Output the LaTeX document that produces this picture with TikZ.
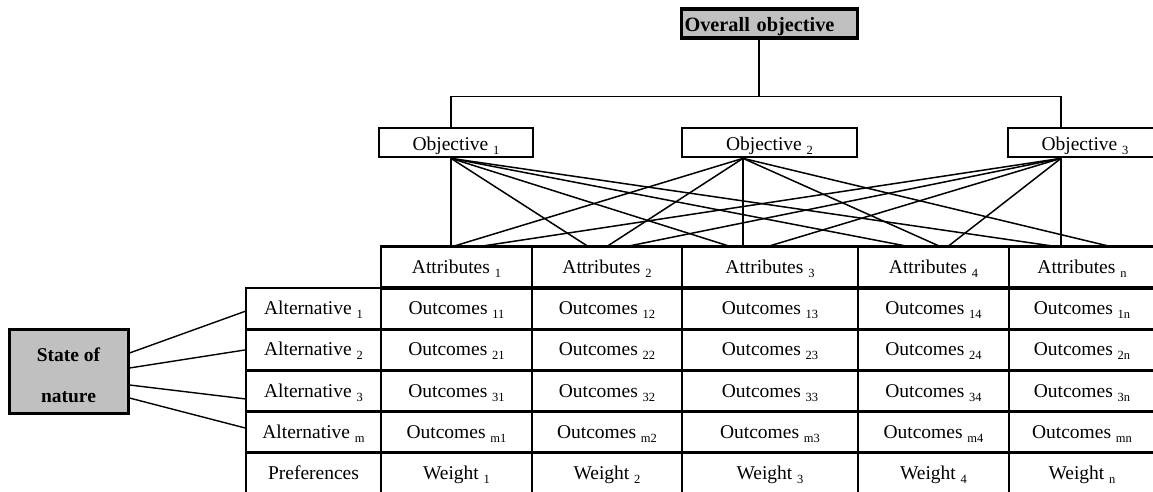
\documentclass[tikz,border=0pt]{standalone}
\usepackage{fontspec}
\setmainfont{Liberation Serif}
\usetikzlibrary{calc}
\definecolor{box-grey}{HTML}{C0C0C0}
\newcommand{\idx}[1]{\raisebox{-4pt}{\fontsize{12.5}{14}\selectfont #1}}

\begin{document}
\begin{tikzpicture}[x=1pt, y=-1pt,
      every node/.style={font=\fontsize{19.5}{23}\selectfont},
      cell/.style={draw, line width=2.7pt, inner sep=0pt, outer sep=0pt,
          minimum height=41.2pt, text height=12pt, text depth=0pt},
      objbox/.style={draw, line width=2.7pt, inner sep=0pt,
          minimum height=29pt, text height=16pt, text depth=0pt},
      link/.style={line width=1.4pt},
      fan/.style={line width=1.5pt}]
  \useasboundingbox (0,0) rectangle (1153,492);
  \clip (0,0) rectangle (1153,492);
  % objectives
  \node[objbox, fill=box-grey, line width=3.2pt, text width=170pt, align=left,
        inner xsep=3pt, font=\fontsize{20.3}{23}\selectfont\bfseries]
        (OV) at (769.5,23.5) {Overall objective};
  \node[objbox, minimum width=154pt] (O1) at (456,142.5) {Objective \idx{1}};
  \node[objbox, minimum width=175pt] (O2) at (769.5,142.5) {Objective \idx{2}};
  \node[objbox, minimum width=154pt] (O3) at (1085,142.5) {Objective \idx{3}};
  \draw[link] ([xshift=-10.5pt]OV.south) -- ++(0,57) coordinate (bus);
  \draw[link] ([xshift=-5pt]O1.north) |- (bus) -| ([xshift=-24pt]O3.north);
  \coordinate (o1) at ([xshift=-5pt]O1.south);
  \coordinate (o2) at ([xshift=-26.5pt]O2.south);
  \coordinate (o3) at ([xshift=-24pt]O3.south);
  % attributes
  \node[cell, minimum width=151pt] (A1) at (456.5,267) {Attributes \idx{1}};
  \node[cell, minimum width=150pt] (A2) at (607,267) {Attributes \idx{2}};
  \node[cell, minimum width=176pt] (A3) at (770,267) {Attributes \idx{3}};
  \node[cell, minimum width=151pt] (A4) at (933.5,267) {Attributes \idx{4}};
  \node[cell, minimum width=146pt] (A5) at (1082,267) {Attributes \idx{n}};
  \draw[line width=4pt] (A1.south west) -- (A5.south east);
  \foreach \src/\dst/\dx in {o1/A1/-5.5, o2/A1/-3.5, o3/A1/23.5,
      o1/A2/-19, o2/A2/0, o3/A2/20, o1/A3/-40, o2/A3/-27, o3/A3/-2,
      o1/A4/-25.5, o2/A4/6.5, o3/A4/14.5, o1/A5/-27, o2/A5/28, o3/A5/-21}
    \draw[fan] (\src) -- ($(\dst.north)+(\dx,0)$);
  % alternatives and outcomes
  \node[cell, minimum width=135pt] (L1) at (313.5,308.6) {Alternative \idx{1}};
  \node[cell, minimum width=135pt] (L2) at (313.5,349.8) {Alternative \idx{2}};
  \node[cell, minimum width=135pt] (L3) at (313.5,391) {Alternative \idx{3}};
  \node[cell, minimum width=135pt] (L4) at (313.5,432.2) {Alternative \idx{m}};
  \node[cell, minimum width=135pt] (P) at (313.5,473.4) {Preferences};
  \foreach \rowid/\rowy/\ix in {1/308.6/1, 2/349.8/2, 3/391/3, 4/432.2/m} {
    \node[cell, minimum width=151pt] (R\rowid-1) at (456.5,\rowy) {Outcomes \idx{\ix1}};
    \node[cell, minimum width=150pt] (R\rowid-2) at (607,\rowy) {Outcomes \idx{\ix2}};
    \node[cell, minimum width=176pt] (R\rowid-3) at (770,\rowy) {Outcomes \idx{\ix3}};
    \node[cell, minimum width=151pt] (R\rowid-4) at (933.5,\rowy) {Outcomes \idx{\ix4}};
    \node[cell, minimum width=146pt] (R\rowid-5) at (1082,\rowy) {Outcomes \idx{\ix n}};
  }
  \node[cell, minimum width=151pt] (W1) at (456.5,473.4) {Weight \idx{1}};
  \node[cell, minimum width=150pt] (W2) at (607,473.4) {Weight \idx{2}};
  \node[cell, minimum width=176pt] (W3) at (770,473.4) {Weight \idx{3}};
  \node[cell, minimum width=151pt] (W4) at (933.5,473.4) {Weight \idx{4}};
  \node[cell, minimum width=146pt] (W5) at (1082,473.4) {Weight \idx{n}};
  % state of nature
  \node[draw, fill=box-grey, line width=3pt, minimum width=119pt,
        minimum height=84pt, align=center,
        font=\fontsize{19.5}{41}\selectfont\bfseries]
        (SN) at (68.5,371) {\rule{0pt}{23pt}State of\\nature};
  \draw[link] ($(SN.east)+(0,-18)$) -- ($(L1.west)+(0,2.4)$);
  \draw[link] ($(SN.east)+(0,-3)$) -- (L2.west);
  \draw[link] ($(SN.east)+(0,14)$) -- ($(L3.west)+(0,8)$);
  \draw[link] ($(SN.east)+(0,27)$) -- ($(L4.west)+(0,-4)$);
\end{tikzpicture}
\end{document}
